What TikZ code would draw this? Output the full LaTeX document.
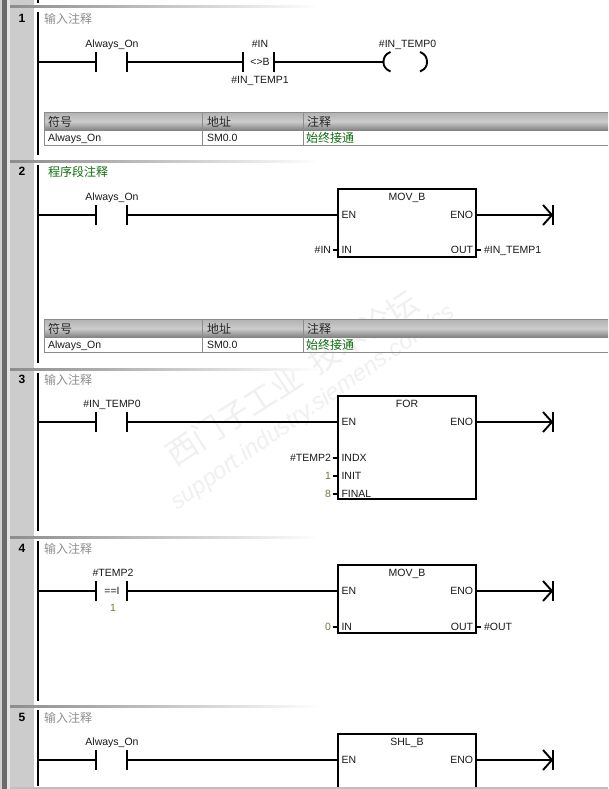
\documentclass[tikz,border=0pt]{standalone}
\usepackage{fontspec}
\setmainfont{Liberation Sans}
\newfontfamily\cjkf{Noto Sans CJK SC}
\newfontfamily\wmf{Liberation Sans}
\definecolor{cmtgray}{HTML}{8E8E8E}
\definecolor{cmtgreen}{HTML}{0F6E0F}
\definecolor{constolive}{HTML}{77773A}
\definecolor{wmark}{HTML}{F0F0F0}
\usetikzlibrary{calc}
\tikzset{
  x=1pt,y=-1pt,
  wire/.style={line width=1.7pt,black},
  rail/.style={line width=2.2pt,black},
  bar/.style={line width=1.9pt,black},
  fbox/.style={draw=black,line width=2pt,fill=white,fill opacity=0,inner sep=0pt,outer sep=0pt,minimum width=138pt},
  lab/.style={inner sep=0pt,outer sep=0pt,text height=7.5pt,text depth=0pt,font=\fontsize{10.5}{12}\selectfont,text=black!90},
  pin/.style={lab,anchor=west},
  tag/.style={lab,anchor=east},
  konst/.style={text=constolive},
  cjk/.style={inner sep=0pt,outer sep=0pt,anchor=west,font=\cjkf\fontsize{12}{14}\selectfont},
  num/.style={inner sep=0pt,outer sep=0pt,font=\bfseries\fontsize{12}{14}\selectfont},
  sep/.style={left color=black!45,right color=white,draw=none},
  hdr/.style={top color=black!30,bottom color=black!50,middle color=black!20,draw=none},
  tline/.style={draw=black!45,line width=0.9pt},
  wmtext/.style={inner sep=0pt,text=wmark},
}
\newcommand{\nocontact}[2]{%
  \coordinate (#1l) at (96,#2);
  \coordinate (#1r) at (127,#2);
  \draw[bar] (96,#2-10) -- (96,#2+10);
  \draw[bar] (127,#2-10) -- (127,#2+10);
}
\newcommand{\arrowend}[2]{%
  \coordinate (#1) at (553,#2);
  \draw[bar] (553,#2-10) -- (553,#2+10);
  \draw[bar] (543,#2-10) -- (552,#2) -- (543,#2+10);
}
\newcommand{\symtable}[2]{%
  \path[hdr] (44,#2) rectangle (608,#2+18);
  \draw[tline] (608,#2) -- (44,#2) -- (44,#2+32.5) -- (608,#2+32.5);
  \draw[tline] (202,#2) -- (202,#2+32.5);
  \draw[tline] (303,#2) -- (303,#2+32.5);
  \node[cjk,text=black!85] (#1a) at (48,#2+9) {符号};
  \node[cjk,text=black!85] (#1b) at (207,#2+9) {地址};
  \node[cjk,text=black!85] (#1c) at (307,#2+9) {注释};
  \node[pin] (#1d) at (48,#2+25) {Always\_On};
  \node[pin] (#1e) at (207,#2+25) {SM0.0};
  \node[cjk,text=cmtgreen] (#1f) at (306,#2+25) {始终接通};
}
% left stub: from a tag to the box; right stub: from the box to a tag
\newcommand{\lstub}[2]{\draw[bar] ($(#1.east)+(1.5,0)$) -- (#2.west |- #1);}
\newcommand{\rstub}[2]{\draw[bar] (#1.east |- #2) -- ($(#2.west)+(-3,0)$);}
\begin{document}
\begin{tikzpicture}
\path[use as bounding box,clip] (0,0) rectangle (608,789);
\fill[white] (0,0) rectangle (608,789);
% left gutter
\fill[black!18] (0,0) rectangle (2,789);
\fill[black!58] (2,0) rectangle (7,789);
\fill[black!10] (7,0) rectangle (10,789);
\fill[black!20] (10,0) rectangle (34,789);
% watermark
\node[wmtext,rotate=33,font=\cjkf\fontsize{31}{36}\selectfont] (wm1) at (292,378) {西门子工业\hspace{14pt}技术论坛};
\node[wmtext,rotate=35,font=\wmf\itshape\fontsize{23.5}{26}\selectfont] (wm2) at (313,408) {support.industry.siemens.com/cs};
% separators
\path[sep] (10,6) rectangle (320,8);
\path[sep] (10,160) rectangle (320,162);
\path[sep] (10,368) rectangle (320,370);
\path[sep] (10,536) rectangle (320,538);
\path[sep] (10,705) rectangle (320,707);
% network numbers and comments
\node[num] (n1) at (22,18) {1};
\node[num] (n2) at (22,171) {2};
\node[num] (n3) at (22,379) {3};
\node[num] (n4) at (22,548) {4};
\node[num] (n5) at (22,717) {5};
\node[cjk,text=cmtgray] (c1) at (44,19) {输入注释};
\node[cjk,text=cmtgreen] (c2) at (48,172) {程序段注释};
\node[cjk,text=cmtgray] (c3) at (44,380) {输入注释};
\node[cjk,text=cmtgray] (c4) at (44,549) {输入注释};
\node[cjk,text=cmtgray] (c5) at (44,718) {输入注释};
% power rails
\draw[rail] (38,0) -- (38,3);
\draw[rail] (38,12) -- (38,155);
\draw[rail] (38,165) -- (38,363);
\draw[rail] (38,373) -- (38,531);
\draw[rail] (38,541) -- (38,701);
\draw[rail] (38,710) -- (38,786);
\coordinate (r1) at (38,62);
\coordinate (r2) at (38,215);
\coordinate (r3) at (38,422);
\coordinate (r4) at (38,591);
\coordinate (r5) at (38,760);

% --- network 1
\nocontact{k1}{62}
\node[lab] (k1t) at (112,44) {Always\_On};
\draw[wire] (r1) -- (k1l);
\coordinate (cmpl) at (243,62);
\coordinate (cmpr) at (274,62);
\draw[bar] (243,52) -- (243,72);
\draw[bar] (274,52) -- (274,72);
\node[lab] (cmpa) at (260,44) {\#IN};
\node[lab] (cmpb) at (260,62) {<>B};
\node[lab] (cmpc) at (260,80) {\#IN\_TEMP1};
\draw[wire] (k1r) -- (cmpl);
\coordinate (coil) at (383.5,62);
\draw[wire] (cmpr) -- (coil);
\draw[bar] (390.5,52) .. controls (385,54) and (383.5,58) .. (383.5,62) .. controls (383.5,66) and (385,69) .. (390.5,71.5);
\draw[bar] (420,52) .. controls (425.5,54) and (427,58) .. (427,62) .. controls (427,66) and (425.5,69) .. (420,71.5);
\node[lab] (coilt) at (407.5,44) {\#IN\_TEMP0};
\symtable{ta}{112.5}

% --- network 2
\nocontact{k2}{215}
\node[lab] (k2t) at (112,197) {Always\_On};
\draw[wire] (r2) -- (k2l);
\node[fbox,minimum height=68pt] (b2) at (407,223) {};
\node[lab] (b2t) at (407,197) {MOV\_B};
\node[pin] (b2en) at (341.5,215) {EN};
\node[lab,anchor=east] (b2eno) at (473,215) {ENO};
\node[pin] (b2in) at (341.5,250) {IN};
\node[lab,anchor=east] (b2out) at (473,250) {OUT};
\node[tag] (b2a) at (331,250) {\#IN};
\node[lab,anchor=west] (b2b) at (484,250) {\#IN\_TEMP1};
\draw[wire] (k2r) -- (b2.west |- k2r);
\arrowend{e2}{215}
\draw[wire] (b2.east |- e2) -- (e2);
\lstub{b2a}{b2}
\rstub{b2}{b2b}
\symtable{tb}{319.5}

% --- network 3
\nocontact{k3}{422}
\node[lab] (k3t) at (112,404) {\#IN\_TEMP0};
\draw[wire] (r3) -- (k3l);
\node[fbox,minimum height=103pt] (b3) at (407,447.5) {};
\node[lab] (b3t) at (407,404) {FOR};
\node[pin] (b3en) at (341.5,422) {EN};
\node[lab,anchor=east] (b3eno) at (473,422) {ENO};
\node[pin] (b3i) at (341.5,458) {INDX};
\node[pin] (b3j) at (341.5,476) {INIT};
\node[pin] (b3k) at (341.5,493.5) {FINAL};
\node[tag] (b3a) at (331,458) {\#TEMP2};
\node[tag,konst] (b3b) at (331,476) {1};
\node[tag,konst] (b3c) at (331,494) {8};
\draw[wire] (k3r) -- (b3.west |- k3r);
\arrowend{e3}{422}
\draw[wire] (b3.east |- e3) -- (e3);
\lstub{b3a}{b3}
\lstub{b3b}{b3}
\lstub{b3c}{b3}

% --- network 4
\nocontact{k4}{591}
\node[lab] (k4t) at (113,573) {\#TEMP2};
\node[lab] (k4o) at (112,591) {==I};
\node[lab,konst] (k4c) at (113,608) {1};
\draw[wire] (r4) -- (k4l);
\node[fbox,minimum height=68pt] (b4) at (407,599) {};
\node[lab] (b4t) at (407,573) {MOV\_B};
\node[pin] (b4en) at (341.5,591) {EN};
\node[lab,anchor=east] (b4eno) at (473,591) {ENO};
\node[pin] (b4in) at (341.5,627) {IN};
\node[lab,anchor=east] (b4out) at (473,627) {OUT};
\node[tag,konst] (b4a) at (331,627) {0};
\node[lab,anchor=west] (b4b) at (484,627) {\#OUT};
\draw[wire] (k4r) -- (b4.west |- k4r);
\arrowend{e4}{591}
\draw[wire] (b4.east |- e4) -- (e4);
\lstub{b4a}{b4}
\rstub{b4}{b4b}

% --- network 5
\nocontact{k5}{760}
\node[lab] (k5t) at (112,742) {Always\_On};
\draw[wire] (r5) -- (k5l);
\node[fbox,minimum height=68pt] (b5) at (407,768) {};
\node[lab] (b5t) at (407,742) {SHL\_B};
\node[pin] (b5en) at (341.5,760) {EN};
\node[lab,anchor=east] (b5eno) at (473,760) {ENO};
\draw[wire] (k5r) -- (b5.west |- k5r);
\arrowend{e5}{760}
\draw[wire] (b5.east |- e5) -- (e5);
\fill[black!25] (10,787) rectangle (608,789);
\end{tikzpicture}
\end{document}
